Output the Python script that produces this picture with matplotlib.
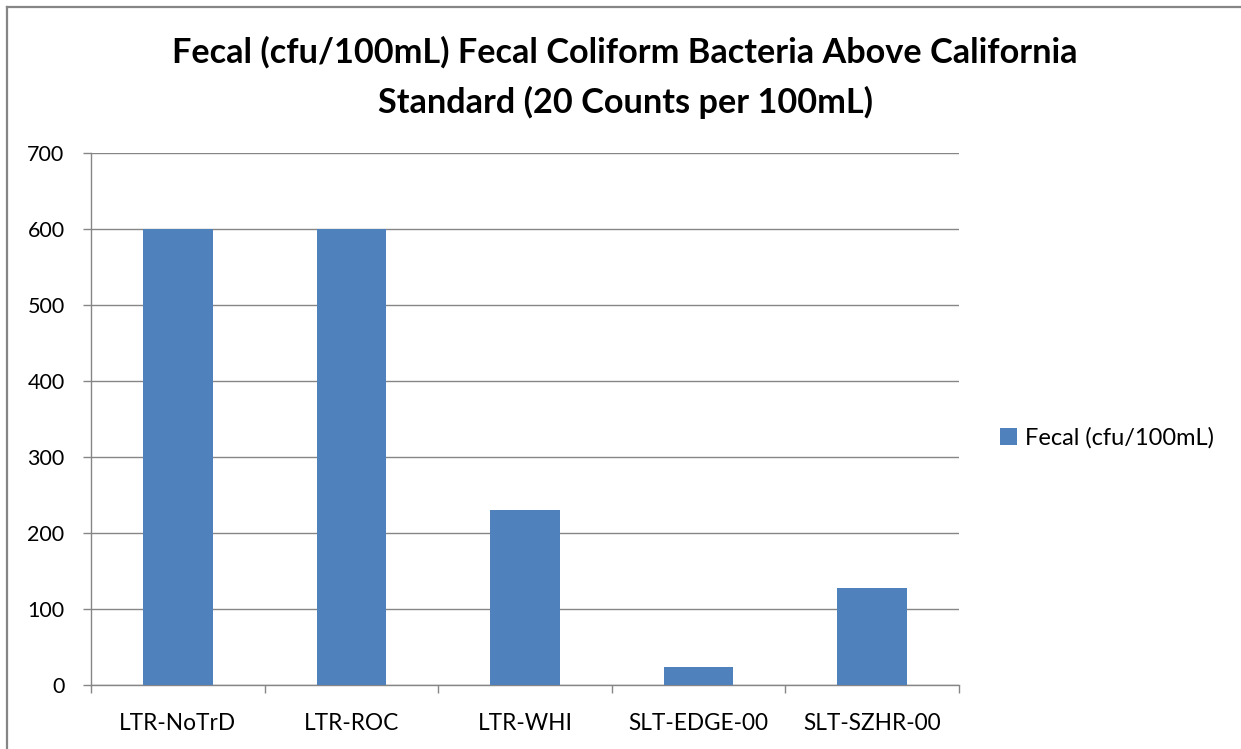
import matplotlib
matplotlib.use("Agg")
import matplotlib.pyplot as plt
from matplotlib.lines import Line2D

categories = ["LTR-NoTrD", "LTR-ROC", "LTR-WHI", "SLT-EDGE-00", "SLT-SZHR-00"]
values = [600, 600, 230, 24, 127]
series_name = "Fecal (cfu/100mL)"
title_lines = ["Fecal (cfu/100mL) Fecal Coliform Bacteria Above California",
               "Standard (20 Counts per 100mL)"]
yticks = [0, 100, 200, 300, 400, 500, 600, 700]

plt.rcParams['font.family'] = ['Lato', 'DejaVu Sans']

W, H = 1241, 749
fig = plt.figure(figsize=(W/100, H/100), dpi=100)
ax = fig.add_axes([91/W, 1-685/H, (959-91)/W, (685-153)/H])

bar_color = "#4f81bd"
grey = "#868686"
x = list(range(len(categories)))
ax.bar(x, values, width=0.4, color=bar_color, label=series_name, zorder=3)

ax.set_xlim(-0.5, len(categories) - 0.5)
ax.set_ylim(0, 700)
ax.set_yticks(yticks)
ax.set_yticklabels([str(v) for v in yticks], fontsize=15.5)
ax.set_xticks(x)
ax.set_xticklabels(categories, fontsize=16.3)
ax.tick_params(axis='x', length=0, pad=20)
ax.set_xticks([i - 0.5 for i in range(len(categories) + 1)], minor=True)
ax.tick_params(axis='x', which='minor', length=6, width=1, color=grey, direction='out')
ax.tick_params(axis='y', length=6, width=1, color=grey, direction='out', pad=13)

ax.grid(axis='y', color=grey, linewidth=1, zorder=0)
for s in ['top', 'right']:
    ax.spines[s].set_visible(False)
for s in ['left', 'bottom']:
    ax.spines[s].set_color(grey)
    ax.spines[s].set_linewidth(1)

renderer = fig.canvas.get_renderer()

# title, fitted to the reference width
t1 = fig.text(625/W, 1-63/H, title_lines[0], ha='center', va='baseline',
              fontsize=20, fontweight='bold')
t2 = fig.text(625/W, 1-113/H, title_lines[1], ha='center', va='baseline',
              fontsize=20, fontweight='bold')
w = t1.get_window_extent(renderer).width
fs = 20 * 905 / w
t1.set_fontsize(fs)
t2.set_fontsize(fs)

leg = fig.legend(loc='center left', bbox_to_anchor=(1000/W, 1-438/H), frameon=False,
                 fontsize=17, handlelength=0.7, handleheight=0.7, handletextpad=0.35,
                 borderaxespad=0, borderpad=0)

fig.lines.append(Line2D([7/W, 7/W], [0, 1-7/H], transform=fig.transFigure,
                        color=grey, linewidth=1.6))
fig.lines.append(Line2D([7/W, 1], [1-7/H, 1-7/H], transform=fig.transFigure,
                        color=grey, linewidth=1.6))

fig.savefig("out.png", dpi=100)
